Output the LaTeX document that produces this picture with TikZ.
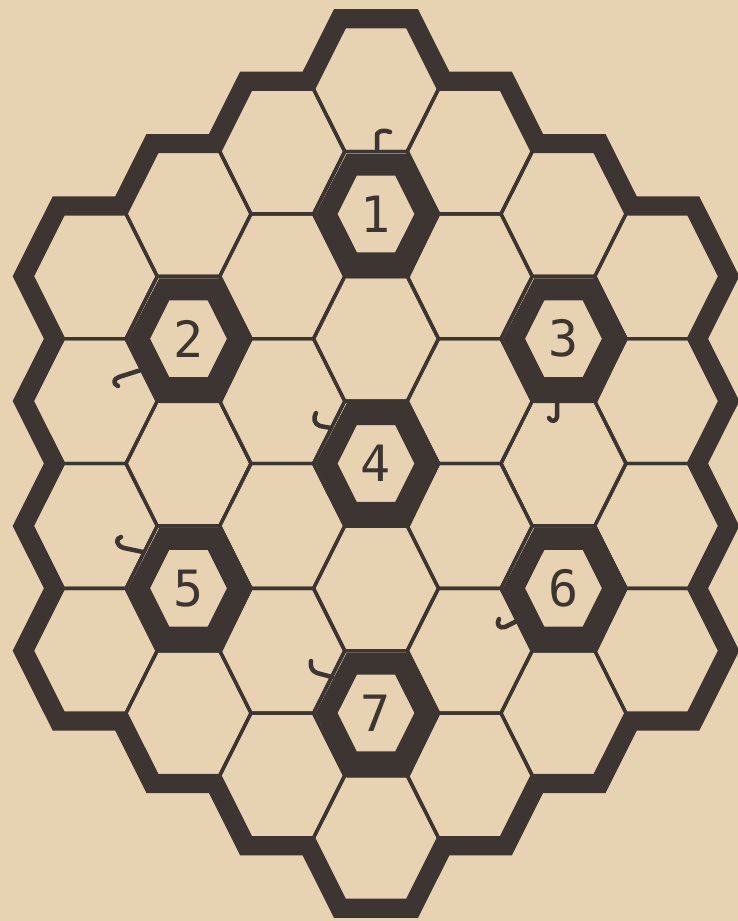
\documentclass[tikz,border=0pt]{standalone}
\usepackage{fontspec}
\newfontfamily\digitfont{DejaVu Sans Mono}
\definecolor{paper}{HTML}{E7D3B2}
\definecolor{ink}{HTML}{3C3531}
\newcommand{\hexp}[4]{(#1+#3,#2) -- (#1+0.5*#3,#2-#4) -- (#1-0.5*#3,#2-#4) -- (#1-#3,#2) -- (#1-0.5*#3,#2+#4) -- (#1+0.5*#3,#2+#4) -- cycle}
\begin{document}
\begin{tikzpicture}[x=1pt,y=-1pt,
  band/.style={draw=ink,line width=35pt,line join=miter},
  cellfill/.style={fill=paper},
  thinline/.style={draw=ink,line width=3.4pt,line join=miter},
  ring/.style={fill=ink,even odd rule},
  numlabel/.style={text=ink,font=\digitfont\fontsize{50}{50}\selectfont,inner sep=0pt},
  hook/.style={draw=ink,line width=4.5pt,line cap=round,line join=round}]
\def\A{62.5}
\def\H{62.4}
\fill[paper] (0,0) rectangle (738,921);
\useasboundingbox (0,0) rectangle (738,921);
% outer band
\foreach \q in {-3,...,3}{
  \pgfmathtruncatemacro\n{7-abs(\q)}
  \pgfmathsetmacro\cx{376+\q*93.75}
  \foreach \k in {1,...,\n}{
    \pgfmathsetmacro\cy{463.5+(\k-1-(\n-1)/2)*2*\H}
    \path[band] \hexp{\cx}{\cy}{\A}{\H};
  }
}
% cell interiors
\foreach \q in {-3,...,3}{
  \pgfmathtruncatemacro\n{7-abs(\q)}
  \pgfmathsetmacro\cx{376+\q*93.75}
  \foreach \k in {1,...,\n}{
    \pgfmathsetmacro\cy{463.5+(\k-1-(\n-1)/2)*2*\H}
    \path[cellfill] \hexp{\cx}{\cy}{\A}{\H};
  }
}
% thin cell lines
\foreach \q in {-3,...,3}{
  \pgfmathtruncatemacro\n{7-abs(\q)}
  \pgfmathsetmacro\cx{376+\q*93.75}
  \foreach \k in {1,...,\n}{
    \pgfmathsetmacro\cy{463.5+(\k-1-(\n-1)/2)*2*\H}
    \path[thinline] \hexp{\cx}{\cy}{\A}{\H};
  }
}
% numbered cells
\foreach \cx/\cy/\t in {376/213.9/1, 188.5/338.7/2, 563.5/338.7/3, 376/463.5/4, 188.5/588.3/5, 563.5/588.3/6, 376/713.1/7}{
  \path[ring] \hexp{\cx}{\cy}{\A+2}{\H+2} \hexp{\cx}{\cy}{0.615*\A}{0.615*\H};
  \node[numlabel] (n\t) at (\cx,\cy) {\t};
}
% small hooks
\draw[hook] (377,149) -- (377,134) .. controls (380,130) and (385,130) .. (390,132);
\draw[hook] (141,370) -- (119,377) .. controls (113,379) and (113,384) .. (118,386);
\draw[hook] (557,402) -- (557,417) .. controls (556,422) and (551,422) .. (549,418);
\draw[hook] (331,428) -- (320,426) .. controls (314,424) and (313,418) .. (316,413);
\draw[hook] (143,552) -- (124,548) .. controls (116,546) and (115,538) .. (121,537);
\draw[hook] (517,621) -- (505,627) .. controls (499,629) and (496,624) .. (499,619);
\draw[hook] (332,677) -- (317,673) .. controls (312,671) and (310,667) .. (311,661);
\end{tikzpicture}
\end{document}
